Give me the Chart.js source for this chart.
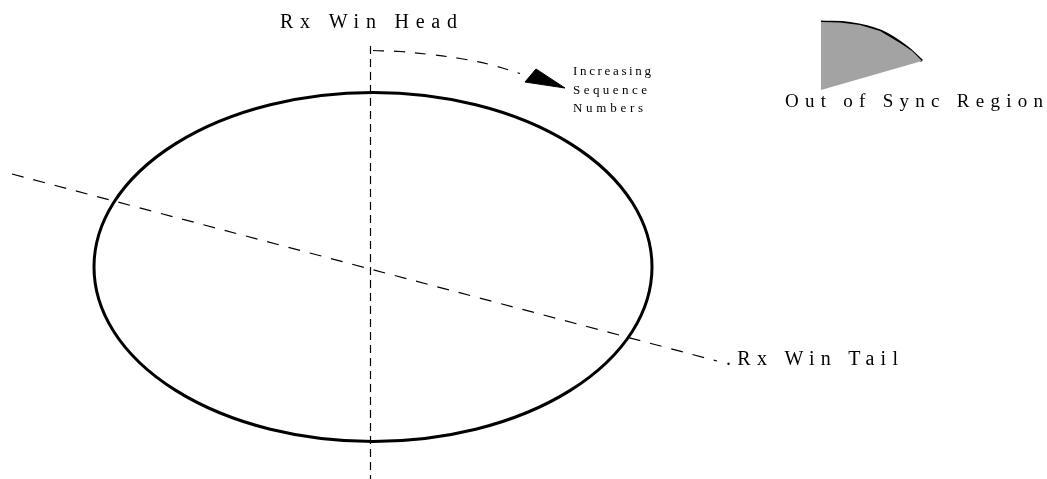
<!DOCTYPE html>
<html>
<head>
<meta charset="utf-8">
<style>
  body { margin: 0; background: #fff; }
</style>
</head>
<body>
<canvas id="myChart" width="1047" height="479"></canvas>
<script src="https://cdn.jsdelivr.net/npm/chart.js"></script>
<script>
// diagram data (page pixel units)
const headLineX = [370.5, 370.5];
const headLineY = [46, 479];
const tailLineX = [12, 717];
const tailLineY = [174, 361];
const seqArcX = [373, 400, 430, 460, 490, 520];
const seqArcY = [50.5, 51.5, 54.5, 58.5, 64.5, 73.5];
const arrowX = [525, 536, 565, 525];
const arrowY = [82, 69, 88, 82];
const ringCenter = [373, 267];
const ringRadius = [279, 174.5];
const regionX = [821, 840, 860, 880, 900, 912, 922, 821, 821];
const regionY = [22, 22.5, 25, 31, 43, 51, 61, 90, 22];
const regionEdgeX = [821, 850, 880, 905, 922];
const regionEdgeY = [22, 23.5, 31, 46, 61];
const labels = ['Rx Win Head', 'Increasing', 'Sequence', 'Numbers', 'Out of Sync Region', '.Rx Win Tail'];

function pts(xs, ys) {
    var out = [];
    for (var i = 0; i < xs.length; i++) out.push({x: xs[i], y: ys[i]});
    return out;
}

// where each label sits: left, right, baseline, font size
const labelBox = [
    [280, 457, 28, 20],
    [573, 651, 75, 13],
    [573, 647, 93.5, 13],
    [573, 643, 112, 13],
    [785, 1043, 107, 19],
    [726, 898, 365, 20]
];

const ringPlugin = {
    id: 'ring',
    afterDatasetsDraw(chart) {
        const ctx = chart.ctx, sx = chart.scales.x, sy = chart.scales.y;
        const cx = sx.getPixelForValue(ringCenter[0]);
        const cy = sy.getPixelForValue(ringCenter[1]);
        const rx = sx.getPixelForValue(ringCenter[0] + ringRadius[0]) - cx;
        const ry = sy.getPixelForValue(ringCenter[1] + ringRadius[1]) - cy;
        ctx.save();
        ctx.beginPath();
        ctx.ellipse(cx, cy, Math.abs(rx), Math.abs(ry), 0, 0, Math.PI * 2);
        ctx.lineWidth = 3;
        ctx.strokeStyle = '#000';
        ctx.stroke();
        ctx.restore();
    }
};

const textPlugin = {
    id: 'texts',
    afterDraw(chart) {
        const ctx = chart.ctx, sx = chart.scales.x, sy = chart.scales.y;
        ctx.save();
        ctx.fillStyle = '#000';
        ctx.textBaseline = 'alphabetic';
        ctx.textAlign = 'left';
        for (var i = 0; i < labels.length; i++) {
            const b = labelBox[i];
            ctx.font = b[3] + 'px "Liberation Serif", "Times New Roman", serif';
            ctx.letterSpacing = '0px';
            const left = sx.getPixelForValue(b[0]);
            const right = sx.getPixelForValue(b[1]);
            const w0 = ctx.measureText(labels[i]).width;
            const sp = (right - left - w0) / (labels[i].length - 1);
            ctx.letterSpacing = sp + 'px';
            ctx.fillText(labels[i], left, sy.getPixelForValue(b[2]));
        }
        ctx.restore();
    }
};

const ctx = document.getElementById('myChart');

new Chart(ctx, {
    type: 'scatter',
    data: {
        datasets: [
            {
                data: pts(regionX, regionY),
                showLine: true,
                fill: 'shape',
                backgroundColor: '#a3a3a3',
                borderWidth: 0,
                borderColor: 'rgba(0,0,0,0)',
                pointRadius: 0
            },
            {
                data: pts(regionEdgeX, regionEdgeY),
                showLine: true,
                borderColor: '#000',
                borderWidth: 3,
                tension: 0.4,
                pointRadius: 0
            },
            {
                data: pts(headLineX, headLineY),
                showLine: true,
                borderColor: '#000',
                borderWidth: 1.2,
                borderDash: [8, 5],
                pointRadius: 0
            },
            {
                data: pts(tailLineX, tailLineY),
                showLine: true,
                borderColor: '#000',
                borderWidth: 1.2,
                borderDash: [12, 10],
                pointRadius: 0
            },
            {
                data: pts(seqArcX, seqArcY),
                showLine: true,
                borderColor: '#000',
                borderWidth: 1.2,
                borderDash: [11, 10],
                tension: 0.4,
                pointRadius: 0
            },
            {
                data: pts(arrowX, arrowY),
                showLine: true,
                fill: 'shape',
                backgroundColor: '#000',
                borderColor: '#000',
                borderWidth: 1,
                pointRadius: 0
            }
        ]
    },
    options: {
        responsive: false,
        devicePixelRatio: 1,
        animation: false,
        layout: { padding: 0 },
        scales: {
            x: { type: 'linear', min: 0, max: 1047, display: false },
            y: { type: 'linear', min: 0, max: 479, reverse: true, display: false }
        },
        plugins: {
            legend: { display: false },
            tooltip: { enabled: false }
        }
    },
    plugins: [ringPlugin, textPlugin]
});
</script>
</body>
</html>
